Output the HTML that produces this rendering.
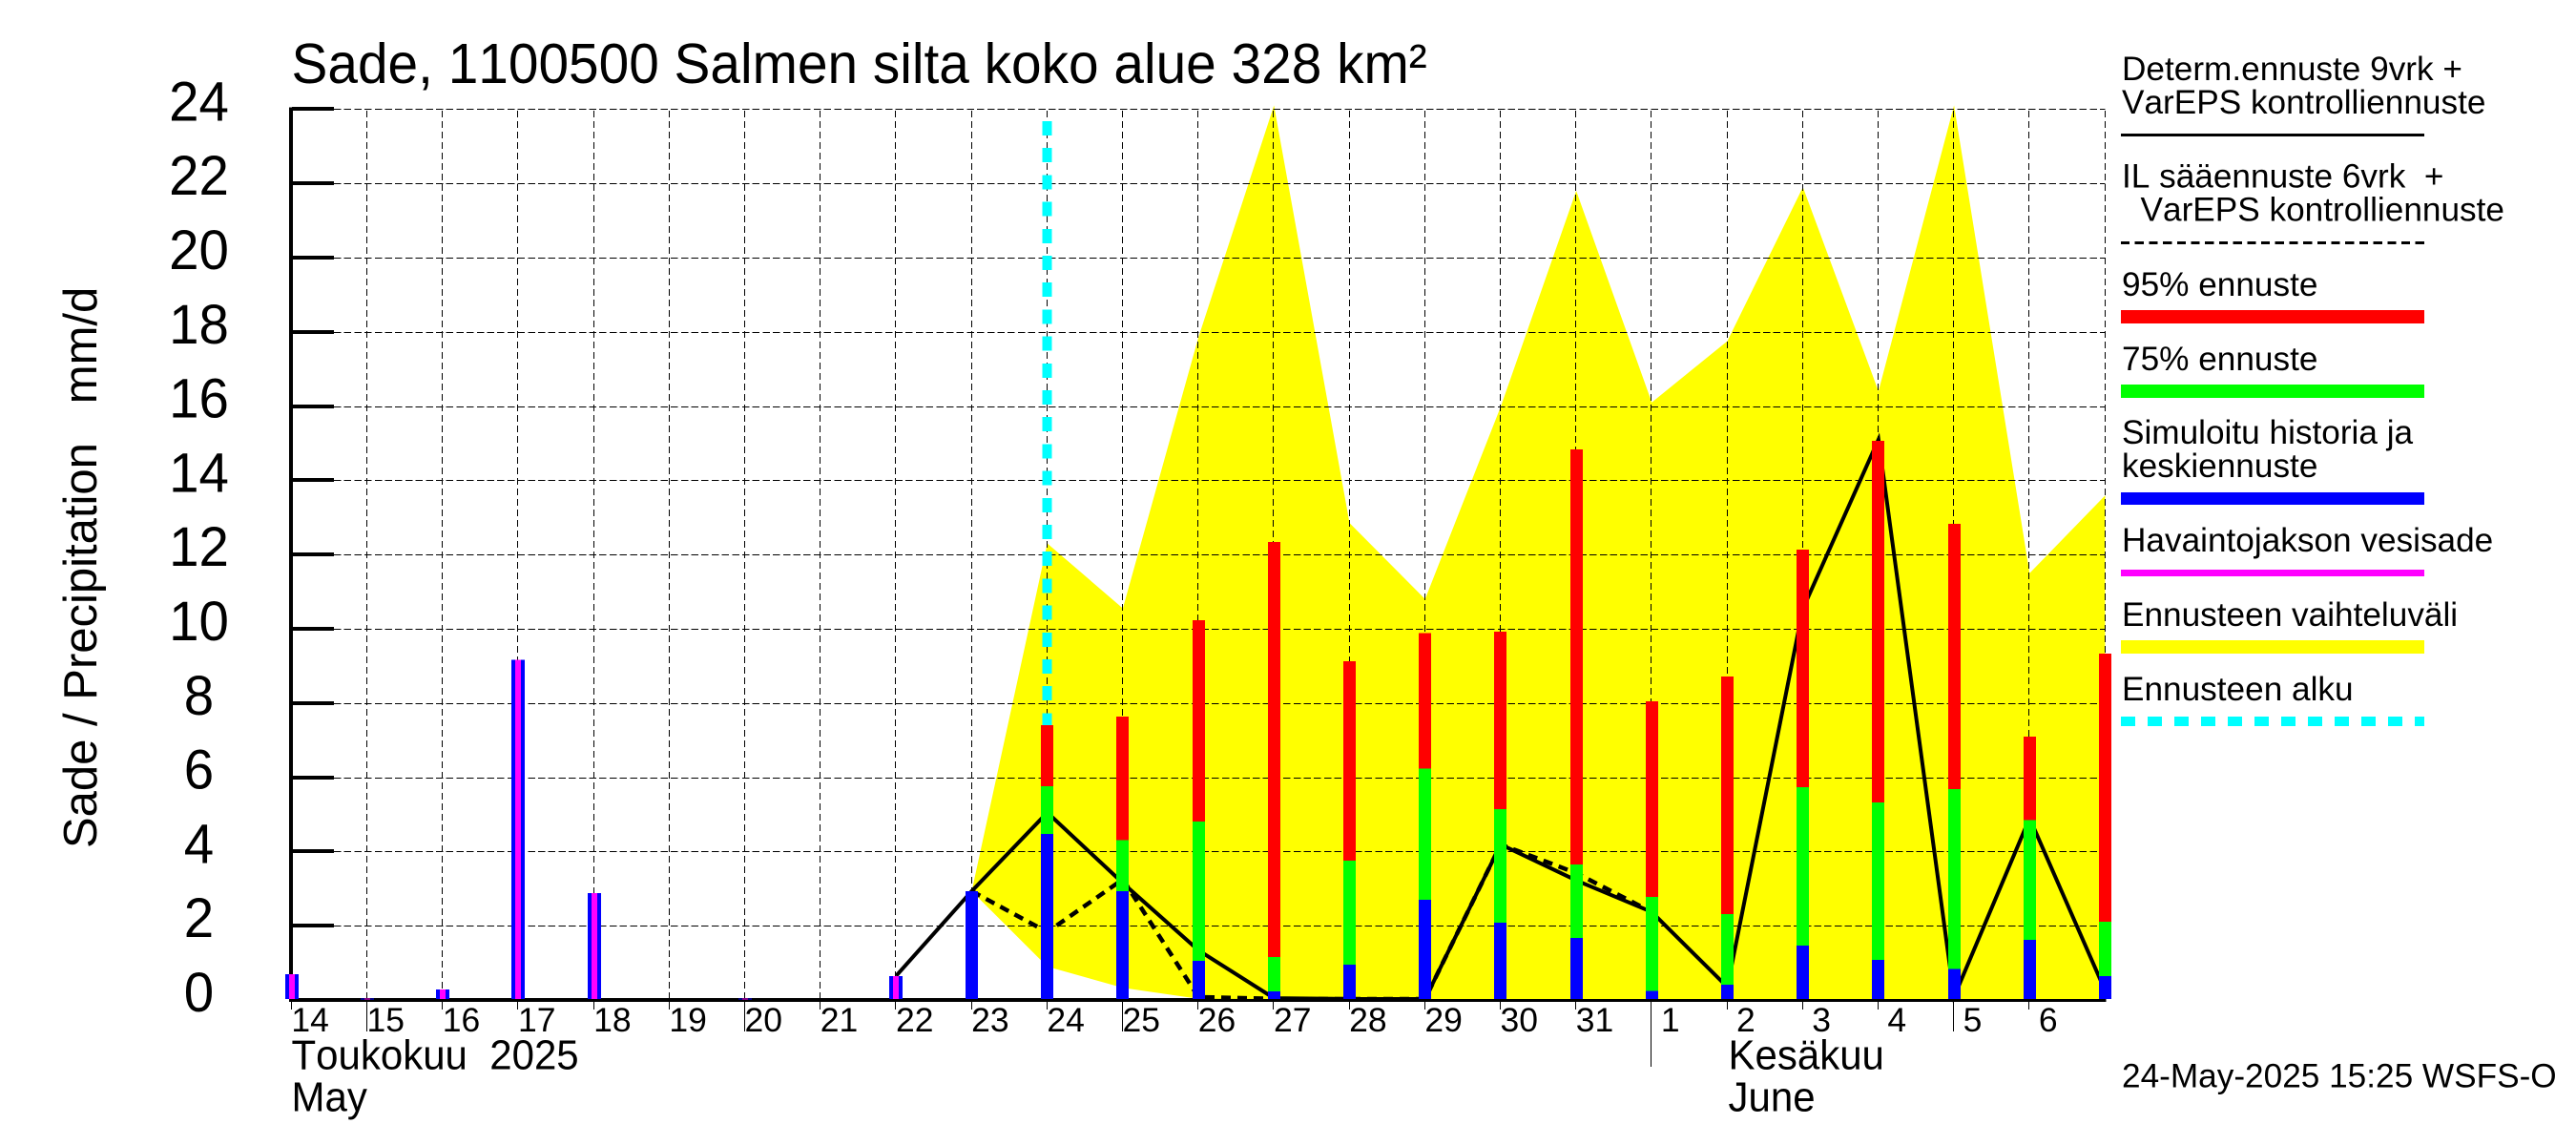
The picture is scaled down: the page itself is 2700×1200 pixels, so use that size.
<!DOCTYPE html>
<html lang="fi">
<head>
<meta charset="utf-8">
<title>Sade, 1100500 Salmen silta koko alue 328 km²</title>
<style>
html,body{margin:0;padding:0;background:#fff;}
svg{display:block;}
text{font-family:"Liberation Sans",Arial,sans-serif;fill:#000;white-space:pre;font-kerning:none;}
.leg{font-size:35.2px;}
.mon{font-size:42px;}
rect{shape-rendering:crispEdges;}
</style>
</head>
<body>
<svg id="chart" xmlns="http://www.w3.org/2000/svg" width="2700" height="1200" viewBox="0 0 2700 1200">
  <rect x="0" y="0" width="2700" height="1200" fill="#fff"/>
  <g id="plot"></g>
  <text transform="translate(305.5 87) scale(1 1.04)" font-size="56.8">Sade, 1100500 Salmen silta koko alue 328 km²</text>
  <text transform="translate(101,889) rotate(-90)" font-size="49">Sade / Precipitation   mm/d</text>
  <text class="mon" transform="translate(305.5 1120.5) scale(1 1.03)">Toukokuu  2025</text>
  <text class="mon" transform="translate(305.5 1164.5) scale(1 1.03)">May</text>
  <text class="mon" transform="translate(1811.5 1120.5) scale(1 1.03)">Kesäkuu</text>
  <text class="mon" transform="translate(1811.5 1164.5) scale(1 1.03)">June</text>

  <g>
    <text class="leg" x="2224" y="84">Determ.ennuste 9vrk +</text>
    <text class="leg" x="2224" y="119">VarEPS kontrolliennuste</text>
    <rect x="2223" y="140" width="318" height="3" fill="#000"/>
    <text class="leg" x="2224" y="196.5">IL sääennuste 6vrk  +</text>
    <text class="leg" x="2224" y="231.5">  VarEPS kontrolliennuste</text>
    <line x1="2223" y1="254.5" x2="2541" y2="254.5" stroke="#000" stroke-width="3" stroke-dasharray="9.2 5.5" shape-rendering="crispEdges"/>
    <text class="leg" x="2224" y="310">95% ennuste</text>
    <rect x="2223" y="325" width="318" height="14" fill="#f00"/>
    <text class="leg" x="2224" y="388">75% ennuste</text>
    <rect x="2223" y="403" width="318" height="14" fill="#0f0"/>
    <text class="leg" x="2224" y="465">Simuloitu historia ja</text>
    <text class="leg" x="2224" y="500">keskiennuste</text>
    <rect x="2223" y="516" width="318" height="13" fill="#00f"/>
    <text class="leg" x="2224" y="578">Havaintojakson vesisade</text>
    <rect x="2223" y="597" width="318" height="7" fill="#f0f"/>
    <text class="leg" x="2224" y="656">Ennusteen vaihteluväli</text>
    <rect x="2223" y="671" width="318" height="14" fill="#ff0"/>
    <text class="leg" x="2224" y="734">Ennusteen alku</text>
    <line x1="2223" y1="756" x2="2541" y2="756" stroke="#0ff" stroke-width="10" stroke-dasharray="15 13" shape-rendering="crispEdges"/>
  </g>
  <text class="leg" x="2224" y="1139.5">24-May-2025 15:25 WSFS-O</text>
</svg>

<script>
// ---- chart data ----
const dayLabels = ['14','15','16','17','18','19','20','21','22','23','24','25','26','27','28','29','30','31','1','2','3','4','5','6'];
const longTicks = ['15','20','25','5'];
const veryLongTicks = ['1'];
const yTickValues = [0,2,4,6,8,10,12,14,16,18,20,22,24];

// history: May 14 .. May 22
const simulatedHistory = [0.69,0.04,0.28,9.16,2.88,0,0.04,0,0.645];
const observedRain     = [0.69,0.04,0.28,9.16,2.88,0,0.04,0,0.645];

// forecast: May 23 .. June 7
const forecastMean = [2.93,4.47,2.93,1.05,0.23,0.95,2.70,2.08,1.67,0.25,0.41,1.46,1.08,0.84,1.62,0.645];
const forecast75   = [2.93,5.76,4.31,4.81,1.16,3.75,6.24,5.14,3.65,2.77,2.31,5.73,5.32,5.68,4.84,2.11];
const forecast95   = [2.93,7.40,7.63,10.23,12.34,9.12,9.89,9.92,14.83,8.04,8.71,12.14,15.06,12.83,7.10,9.33];
const rangeUpper   = [2.93,12.3,10.55,17.85,24.1,12.85,10.8,15.98,21.8,16.1,17.75,21.9,16.4,24.1,11.5,13.59];
const rangeLower   = [2.93,0.9,0.33,0.03,0,0,0,0,0,0,0,0,0,0,0,0];

// deterministic line: May 22 .. June 7
const deterministic = [0.65,2.93,5.05,3.15,1.34,0.05,0,0,4.19,3.22,2.37,0.35,10.54,15.1,0.08,4.9,0.25];
// IL weather forecast line: May 23 .. June 1
const ilForecast = [2.93,1.83,3.25,0.08,0.03,0,0,4.19,3.42,2.37];

const forecastStartIndex = 10; // May 24
const firstForecastIndex = 9;  // May 23
const firstDetIndex = 8;       // May 22

// ---- axis functions ----
const X0 = 305.7, DX = 79.2, Y0 = 1048, DY = 38.9;
const BAR_BOTTOM = 1047;
function xAxis(i){ return X0 + DX * i; }
function yAxis(v){ return Y0 - DY * v; }
const X_END = xAxis(24);
const NS = 'http://www.w3.org/2000/svg';
const plot = document.getElementById('plot');
function el(tag, attrs){
  const n = document.createElementNS(NS, tag);
  for (const k in attrs) n.setAttribute(k, attrs[k]);
  plot.appendChild(n);
  return n;
}
function pts(values, start){
  return values.map(function(v,i){ return xAxis(start+i).toFixed(1)+','+Math.min(yAxis(v),BAR_BOTTOM).toFixed(1); });
}

// x axis sits under the band, which overlaps its top pixel
const xAxisLine = el('rect', {x:304, y:1046, width:X_END-304+1, height:4, fill:'#000'});



// range band
const bandPts = pts(rangeUpper, firstForecastIndex).concat(pts(rangeLower, firstForecastIndex).reverse());
const band = el('polygon', {points: bandPts.join(' '), fill:'#ff0'});



// grid
for (let i = 1; i <= 24; i++) {
  const gx = Math.round(xAxis(i)) - 0.5;
  const g = el('line', {x1:gx, y1:116, x2:gx, y2:1046, stroke:'#000','stroke-width':1,'stroke-dasharray':'7 4','shape-rendering':'crispEdges'});
  
  
}
yTickValues.forEach(function(v){
  const gy = Math.round(yAxis(v)) + 0.5;
  if (v > 0) {
    const g = el('line', {x1:350, y1:gy, x2:X_END, y2:gy, stroke:'#000','stroke-width':1,'stroke-dasharray':'7.5 3.2','shape-rendering':'crispEdges'});
    
    
  }
  const t = el('rect', {x:306, y:Math.round(yAxis(v))-2, width:44, height:4, fill:'#000'});
  
  
  const l = el('text', {transform:'translate(208.5 '+(yAxis(v)+12)+') scale(1 1.04)', 'text-anchor':'middle', 'font-size':56.5});
  l.textContent = String(v);
  
  
});

// y axis
const yAxisLine = el('rect', {x:303, y:yAxis(24)-2, width:4, height:Y0-yAxis(24)+4, fill:'#000'});



// x ticks and labels
dayLabels.forEach(function(lab,i){
  const tx = Math.round(xAxis(i)) - 0.5;
  let len = 10;
  if (i > 0 && longTicks.indexOf(lab) >= 0) len = 33;
  if (veryLongTicks.indexOf(lab) >= 0 && i > 10) len = 70;
  const t = el('line', {x1:tx, y1:Y0, x2:tx, y2:Y0+len, stroke:'#000','stroke-width':1,'shape-rendering':'crispEdges'});
  
  
  const l = el('text', {transform:'translate('+(xAxis(i)+19.4)+' 1081) scale(1 1)', 'text-anchor':'middle', 'font-size':35.5});
  l.textContent = lab;
  
  
});

// forecast start marker
const sx = xAxis(forecastStartIndex);
const startLine = el('line', {x1:sx, y1:127, x2:sx, y2:BAR_BOTTOM, stroke:'#0ff','stroke-width':10,'stroke-dasharray':'15 13.2','shape-rendering':'crispEdges'});



// lines
const ilLine = el('polyline', {points:pts(ilForecast, firstForecastIndex).join(' '), fill:'none', stroke:'#000','stroke-width':4.5,'stroke-dasharray':'10 7'});


const detLine = el('polyline', {points:pts(deterministic, firstDetIndex).join(' '), fill:'none', stroke:'#000','stroke-width':4});



// bars
function bar(i, v, w, fill){
  const bx = Math.round(xAxis(i) - w/2);
  return el('rect', {x:bx, y:yAxis(v), width:w, height:Math.max(BAR_BOTTOM-yAxis(v),1), fill:fill});
}
simulatedHistory.forEach(function(v,i){
  if (v <= 0) return;
  const b = bar(i, v, 14, '#00f');
  
  
});
observedRain.forEach(function(v,i){
  if (v <= 0) return;
  const b = bar(i, v, 6, '#f0f');
  
  
});
forecast95.forEach(function(v,i){
  const b = bar(firstForecastIndex+i, v, 13, '#f00');
  
  
});
forecast75.forEach(function(v,i){
  const b = bar(firstForecastIndex+i, v, 13, '#0f0');
  
  
});
forecastMean.forEach(function(v,i){
  const b = bar(firstForecastIndex+i, v, 13, '#00f');
  
  
});
</script>
</body>
</html>
